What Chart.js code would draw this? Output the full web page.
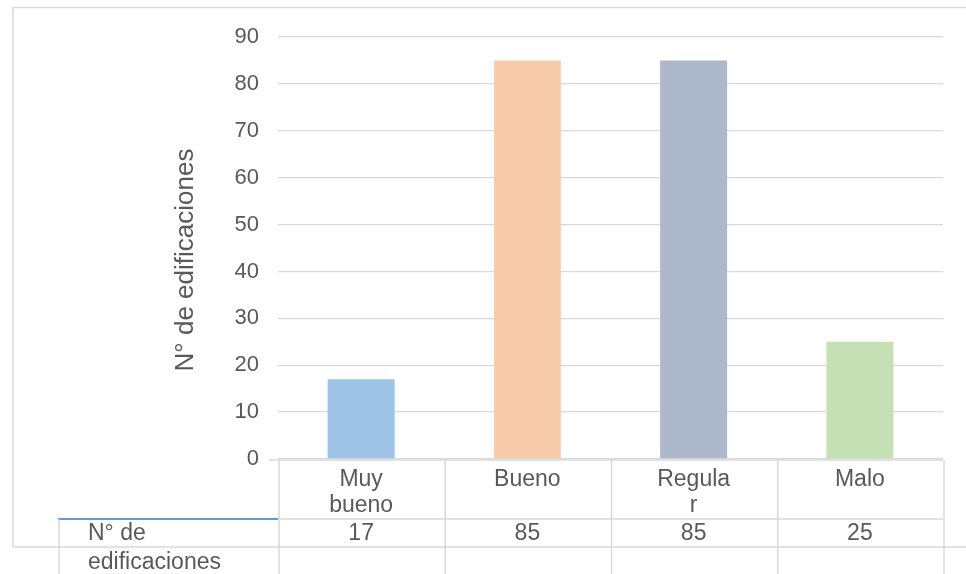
<!DOCTYPE html>
<html>
<head>
<meta charset="utf-8">
<script src="https://cdn.jsdelivr.net/npm/chart.js@4.4.1/dist/chart.umd.min.js"></script>
<style>
  html, body { margin: 0; padding: 0; background: #fff; }
  #wrap { position: relative; width: 966px; height: 574px; }
</style>
</head>
<body>
<div id="wrap"><canvas id="estadoChart"></canvas></div>
<script>
// estado de las edificaciones
var categories = ["Muy bueno", "Bueno", "Regular", "Malo"];
var categoryLines = [["Muy", "bueno"], ["Bueno"], ["Regula", "r"], ["Malo"]];
var seriesLabel = "N° de edificaciones";
var seriesLines = ["N° de", "edificaciones"];
var edificaciones = [17, 85, 85, 25];
var yTicks = [0, 10, 20, 30, 40, 50, 60, 70, 80, 90];
var barColors = ["#9DC3E6", "#F8CBAD", "#ADB9CA", "#C5E0B4"];

var textColor = "#595959";
var lineColor = "#D9D9D9";
var fontFamily = "'Liberation Sans', Arial, sans-serif";

function hline(ctx, x1, x2, y, color) {
    ctx.beginPath();
    ctx.strokeStyle = color;
    ctx.moveTo(x1, y);
    ctx.lineTo(x2, y);
    ctx.stroke();
}
function vline(ctx, x, y1, y2, color) {
    ctx.beginPath();
    ctx.strokeStyle = color;
    ctx.moveTo(x, y1);
    ctx.lineTo(x, y2);
    ctx.stroke();
}

// frame, axis title and the data table under the plot
var dataTable = {
    id: "dataTable",
    beforeDraw(chart) {
        const ctx = chart.ctx;
        ctx.save();
        ctx.lineWidth = 1.5;
        hline(ctx, 13, chart.width, 7.5, lineColor);
        vline(ctx, 13, 7, 547, lineColor);
        hline(ctx, 13, chart.width, 547, lineColor);

        // y axis title, a bit below the middle of the plot like in excel
        const area = chart.chartArea;
        ctx.translate(193, (area.top + area.bottom) / 2 + 12);
        ctx.rotate(-Math.PI / 2);
        ctx.fillStyle = textColor;
        ctx.font = "26px " + fontFamily;
        ctx.textAlign = "center";
        ctx.textBaseline = "alphabetic";
        ctx.fillText(seriesLabel, 0, 0);
        ctx.restore();
    },
    afterDraw(chart) {
        const ctx = chart.ctx;
        const area = chart.chartArea;
        const xs = chart.scales.x;
        const step = (area.right - area.left) / categories.length;
        const top = area.bottom + 1;
        const mid = top + 59;
        const bottom = chart.height;
        const labelLeft = 59;

        ctx.save();
        ctx.lineWidth = 1.5;
        hline(ctx, area.left - 9, area.right, top, lineColor);
        hline(ctx, area.left, area.right, mid, lineColor);
        ctx.lineWidth = 2;
        hline(ctx, labelLeft - 1, area.left, mid, "#5B9BD5");
        ctx.lineWidth = 1.5;
        vline(ctx, labelLeft, mid, bottom, lineColor);
        for (let i = 0; i <= categories.length; i++) {
            vline(ctx, area.left + i * step + 1, top, bottom, lineColor);
        }

        ctx.fillStyle = textColor;
        ctx.font = "23px " + fontFamily;
        ctx.textBaseline = "alphabetic";
        ctx.textAlign = "center";
        categories.forEach((c, i) => {
            const cx = xs.getPixelForValue(i);
            categoryLines[i].forEach((line, k) => {
                ctx.fillText(line, cx, top + 26 + k * 26);
            });
            ctx.fillText(String(edificaciones[i]), cx, mid + 21);
        });
        ctx.textAlign = "left";
        seriesLines.forEach((line, k) => {
            ctx.fillText(line, 88, mid + 21 + k * 29);
        });
        ctx.restore();
    }
};

new Chart(document.getElementById("estadoChart").getContext("2d"), {
    type: "bar",
    data: {
        labels: categories,
        datasets: [{
            label: seriesLabel,
            data: edificaciones,
            backgroundColor: barColors,
            borderWidth: 0,
            barPercentage: 0.403,
            categoryPercentage: 1
        }]
    },
    options: {
        responsive: true,
        maintainAspectRatio: false,
        animation: false,
        devicePixelRatio: 1,
        layout: { padding: { top: 37, right: 23, bottom: 115, left: 0 } },
        plugins: {
            legend: { display: false },
            tooltip: { enabled: false }
        },
        scales: {
            x: { display: false },
            y: {
                min: 0,
                max: 90,
                afterBuildTicks(scale) {
                    scale.ticks = yTicks.map((v) => ({ value: v }));
                },
                afterFit(scale) {
                    scale.width = 278;
                },
                border: { display: false },
                grid: { color: lineColor, lineWidth: 1.3, drawTicks: false },
                ticks: {
                    padding: 19,
                    color: textColor,
                    font: { family: fontFamily, size: 22 }
                }
            }
        }
    },
    plugins: [dataTable]
});
</script>
</body>
</html>
